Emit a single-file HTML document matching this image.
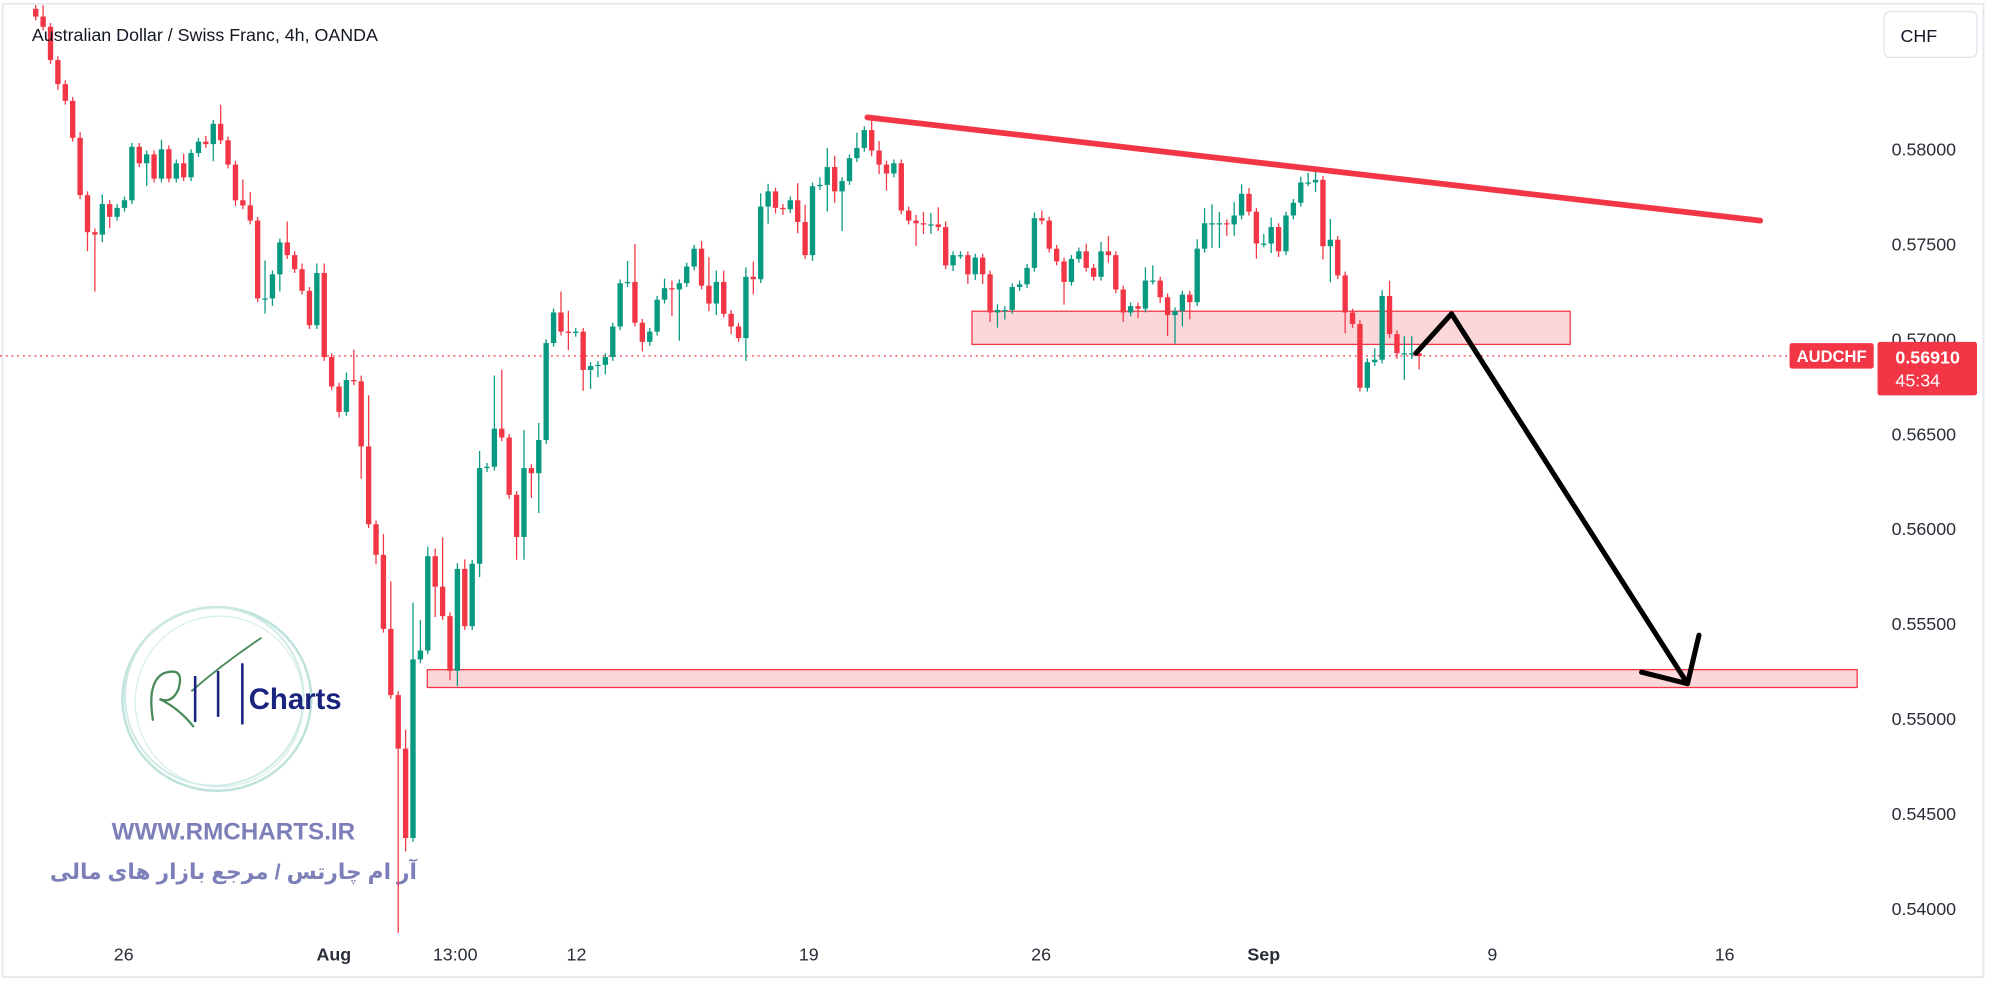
<!DOCTYPE html>
<html><head><meta charset="utf-8"><style>
html,body{margin:0;padding:0;background:#fff;width:2000px;height:1000px;overflow:hidden}
svg{display:block}
text{font-family:"Liberation Sans","DejaVu Sans",sans-serif}
</style></head><body>
<svg id="chart" width="2000" height="1000" viewBox="0 0 1568 784" xmlns="http://www.w3.org/2000/svg">
<rect x="2" y="3" width="1553" height="763" fill="#fff" stroke="#e6e8ee" stroke-width="1.5"/>
<g id="watermark">
<ellipse cx="170" cy="548" rx="74" ry="72" fill="none" stroke="#bfe3dc" stroke-width="2"/>
<ellipse cx="168" cy="546" rx="70" ry="70" fill="none" stroke="#cdeae4" stroke-width="1.5"/>
<ellipse cx="172" cy="550" rx="66" ry="67" fill="none" stroke="#d8efea" stroke-width="1"/>
<path d="M120 565 Q115 535 128 528 Q145 522 140 540 Q135 552 125 548 Q140 555 152 570" fill="none" stroke="#4a8a5a" stroke-width="1.8"/>
<path d="M150 542 Q175 520 205 500" fill="none" stroke="#4a8a5a" stroke-width="1.5"/>
<line x1="153" y1="530" x2="153" y2="566" stroke="#1a237e" stroke-width="2"/>
<line x1="171" y1="526" x2="171" y2="562" stroke="#1a237e" stroke-width="2"/>
<line x1="190" y1="520" x2="190" y2="568" stroke="#1a237e" stroke-width="2"/>
<text x="195" y="556" font-size="23" font-weight="bold" fill="#1a237e">Charts</text>
<text x="183" y="658" font-size="19" font-weight="bold" fill="#7d80b8" text-anchor="middle">WWW.RMCHARTS.IR</text>
<text x="183" y="689" font-size="17" font-weight="bold" fill="#7d80b8" text-anchor="middle" style='font-family:"Liberation Sans","DejaVu Sans","Noto Sans CJK SC",sans-serif' direction="rtl">آر ام چارتس / مرجع بازار های مالی</text>
</g>
<line x1="0" y1="279" x2="1402" y2="279" stroke="#f23645" stroke-width="1" stroke-dasharray="1.5,3"/>
<rect x="762" y="244" width="469" height="26" fill="rgba(242,54,69,0.2)" stroke="#f23645" stroke-width="1"/>
<rect x="335" y="525" width="1121" height="14" fill="rgba(242,54,69,0.2)" stroke="#f23645" stroke-width="1"/>
<g id="candles"></g>
<line x1="680" y1="92" x2="1380" y2="173" stroke="#f23645" stroke-width="4.5" stroke-linecap="round"/>
<g fill="none" stroke="#000" stroke-width="4" stroke-linecap="round" stroke-linejoin="round">
<polyline points="1110,277 1138,246 1323,536"/>
<polyline points="1287,527 1323,536 1332,498"/>
</g>
<text x="25" y="32" font-size="14" fill="#131722">Australian Dollar / Swiss Franc, 4h, OANDA</text>
<g id="yaxis"></g>
<g id="xaxis"></g>
<g>
<rect x="1477" y="9" width="73" height="36" rx="5" fill="#fff" stroke="#e0e3eb"/>
<text x="1490" y="33" font-size="14" fill="#131722">CHF</text>
</g>
<g>
<rect x="1403" y="269" width="66" height="20" rx="2" fill="#f23645"/>
<text x="1436" y="284" font-size="13" font-weight="bold" fill="#fff" text-anchor="middle">AUDCHF</text>
</g>
<g>
<rect x="1472" y="268" width="78" height="42" rx="2" fill="#f23645"/>
<text x="1486" y="285" font-size="14" font-weight="bold" fill="#fff">0.56910</text>
<text x="1486" y="303" font-size="14" fill="#fff">45:34</text>
</g>
</svg>
<script>
const closes=[0.58699,0.58645,0.58470,0.58343,0.58255,0.58060,0.57758,0.57563,0.57550,0.57711,
0.57644,0.57691,0.57731,0.58013,0.57926,0.57973,0.57845,0.58000,0.57845,0.57926,
0.57852,0.57980,0.58040,0.58027,0.58134,0.58047,0.57919,0.57731,0.57704,0.57624,
0.57214,0.57214,0.57341,0.57509,0.57442,0.57368,0.57254,0.57073,0.57348,0.56905,
0.56750,0.56616,0.56784,0.56777,0.56434,0.56024,0.55863,0.55473,0.55124,0.54842,
0.54371,0.55312,0.55359,0.55856,0.55695,0.55540,0.55252,0.55789,0.55487,0.55816,
0.56320,0.56327,0.56528,0.56481,0.56179,0.55957,0.56320,0.56293,0.56468,0.56979,
0.57140,0.57039,0.57032,0.57039,0.56837,0.56858,0.56864,0.56905,0.57066,0.57294,
0.57301,0.57086,0.56985,0.57039,0.57207,0.57268,0.57261,0.57294,0.57382,0.57476,
0.57281,0.57187,0.57301,0.57133,0.57066,0.57005,0.57328,0.57315,0.57698,0.57778,
0.57691,0.57684,0.57731,0.57617,0.57442,0.57805,0.57812,0.57906,0.57778,0.57832,
0.57953,0.58007,0.58101,0.57993,0.57919,0.57872,0.57926,0.57677,0.57624,0.57610,
0.57604,0.57604,0.57590,0.57388,0.57442,0.57442,0.57341,0.57429,0.57341,0.57140,
0.57153,0.57153,0.57274,0.57288,0.57375,0.57637,0.57624,0.57476,0.57409,0.57301,
0.57422,0.57462,0.57375,0.57328,0.57462,0.57442,0.57261,0.57140,0.57173,0.57160,
0.57308,0.57308,0.57220,0.57126,0.57147,0.57234,0.57194,0.57476,0.57610,0.57610,
0.57610,0.57604,0.57651,0.57765,0.57671,0.57503,0.57503,0.57590,0.57462,0.57651,
0.57718,0.57825,0.57825,0.57839,0.57489,0.57523,0.57335,0.57140,0.57079,0.56743,
0.56878,0.56891,0.57227,0.57026,0.56925,0.56925,0.56925,0.56910];
const firstOpen=0.58740;
const highExtPips=[2,6,2,2,2,2,3,2,2,5, 2,2,2,2,2,2,2,5,2,2, 5,2,2,3,2,10,2,2,11,7, 2,20,2,2,11,2,3,2,5,5,
2,2,4,16,3,27,2,11,25,2, 10,30,16,5,4,26,2,3,5,2, 9,2,28,31,2,2,20,2,9,2, 2,11,11,2,2,2,2,2,2,2,
11,20,2,2,2,5,4,2,2,2, 4,15,6,6,2,2,5,8,7,4, 2,2,2,9,9,2,4,10,6,2, 2,8,2,8,5,2,2,2,2,3,
6,6,9,3,2,2,2,2,2,2, 3,2,2,2,2,3,4,2,2,2, 2,2,4,2,5,8,2,2,2,2, 7,8,2,2,2,2,2,5,8,10,
6,2,7,5,3,2,5,5,2,2, 2,3,5,5,2,11,2,2,2,2, 2,6,3,8,2,9,9,2];
const lowExtPips=[2,2,2,3,2,2,2,10,30,4, 6,2,2,2,2,12,2,2,2,2, 2,2,2,2,9,2,2,3,2,2, 2,8,4,9,2,2,2,2,2,2,
2,3,2,2,17,2,5,2,2,97, 7,2,2,2,16,2,5,8,2,2, 7,2,2,2,2,12,12,13,21,2, 2,2,9,2,11,10,6,5,2,2,
2,2,5,2,2,2,14,27,2,2, 2,4,6,2,4,2,12,8,2,9, 3,3,2,6,2,3,2,14,6,21, 2,2,2,3,5,9,2,2,2,12,
5,5,2,2,3,2,5,3,5,5, 8,5,2,2,2,2,2,2,2,12, 2,2,2,2,2,4,2,5,2,5, 2,2,3,11,15,8,9,2,2,13,
13,6,6,2,2,8,2,5,3,2, 2,2,2,5,7,19,2,11,2,2, 2,2,2,2,3,14,3,7];
const priceTicks=[0.58,0.575,0.57,0.565,0.56,0.555,0.55,0.545,0.54];
const timeTickLabels=["26","Aug","13:00","12","19","26","Sep","9","16"];
const timeTickIndex=[11.9,40.3,56.7,73.1,104.5,135.9,166,196.9,228.3];
const timeTickBold=[false,true,false,false,false,false,true,false,false];

const NS="http://www.w3.org/2000/svg";
function xScale(i){return 28+5.8*i;}
function yScale(p){return 117+(0.58-p)*14880;}
function mk(tag,attrs,parent){const e=document.createElementNS(NS,tag);for(const k in attrs)e.setAttribute(k,attrs[k]);parent.appendChild(e);return e;}
const cg=document.getElementById('candles');
closes.forEach((c,i)=>{
  const o=i===0?firstOpen:closes[i-1];
  const up=c>=o;
  const col=up?'#089981':'#f23645';
  const hi=Math.max(o,c)+highExtPips[i]*0.0001;
  const lo=Math.min(o,c)-lowExtPips[i]*0.0001;
  const x=xScale(i);
  const g=mk('g',{},cg);
  
  
  mk('line',{x1:x,x2:x,y1:yScale(hi),y2:yScale(lo),stroke:col,'stroke-width':1},g);
  const yt=yScale(Math.max(o,c)),yb=yScale(Math.min(o,c));
  mk('rect',{x:x-2.1,y:yt,width:4.2,height:Math.max(1,yb-yt),fill:col},g);
});
const ya=document.getElementById('yaxis');
priceTicks.forEach(p=>{
  const t=mk('text',{x:1483,y:yScale(p)+5,'font-size':14,fill:'#2a2e39'},ya);
  
  
  t.textContent=p.toFixed(5);
});
const xa=document.getElementById('xaxis');
timeTickLabels.forEach((l,k)=>{
  const t=mk('text',{x:xScale(timeTickIndex[k]),y:753,'font-size':14,fill:'#2a2e39','text-anchor':'middle','font-weight':timeTickBold[k]?'bold':'normal'},xa);
  
  
  t.textContent=l;
});
</script>
</body></html>
